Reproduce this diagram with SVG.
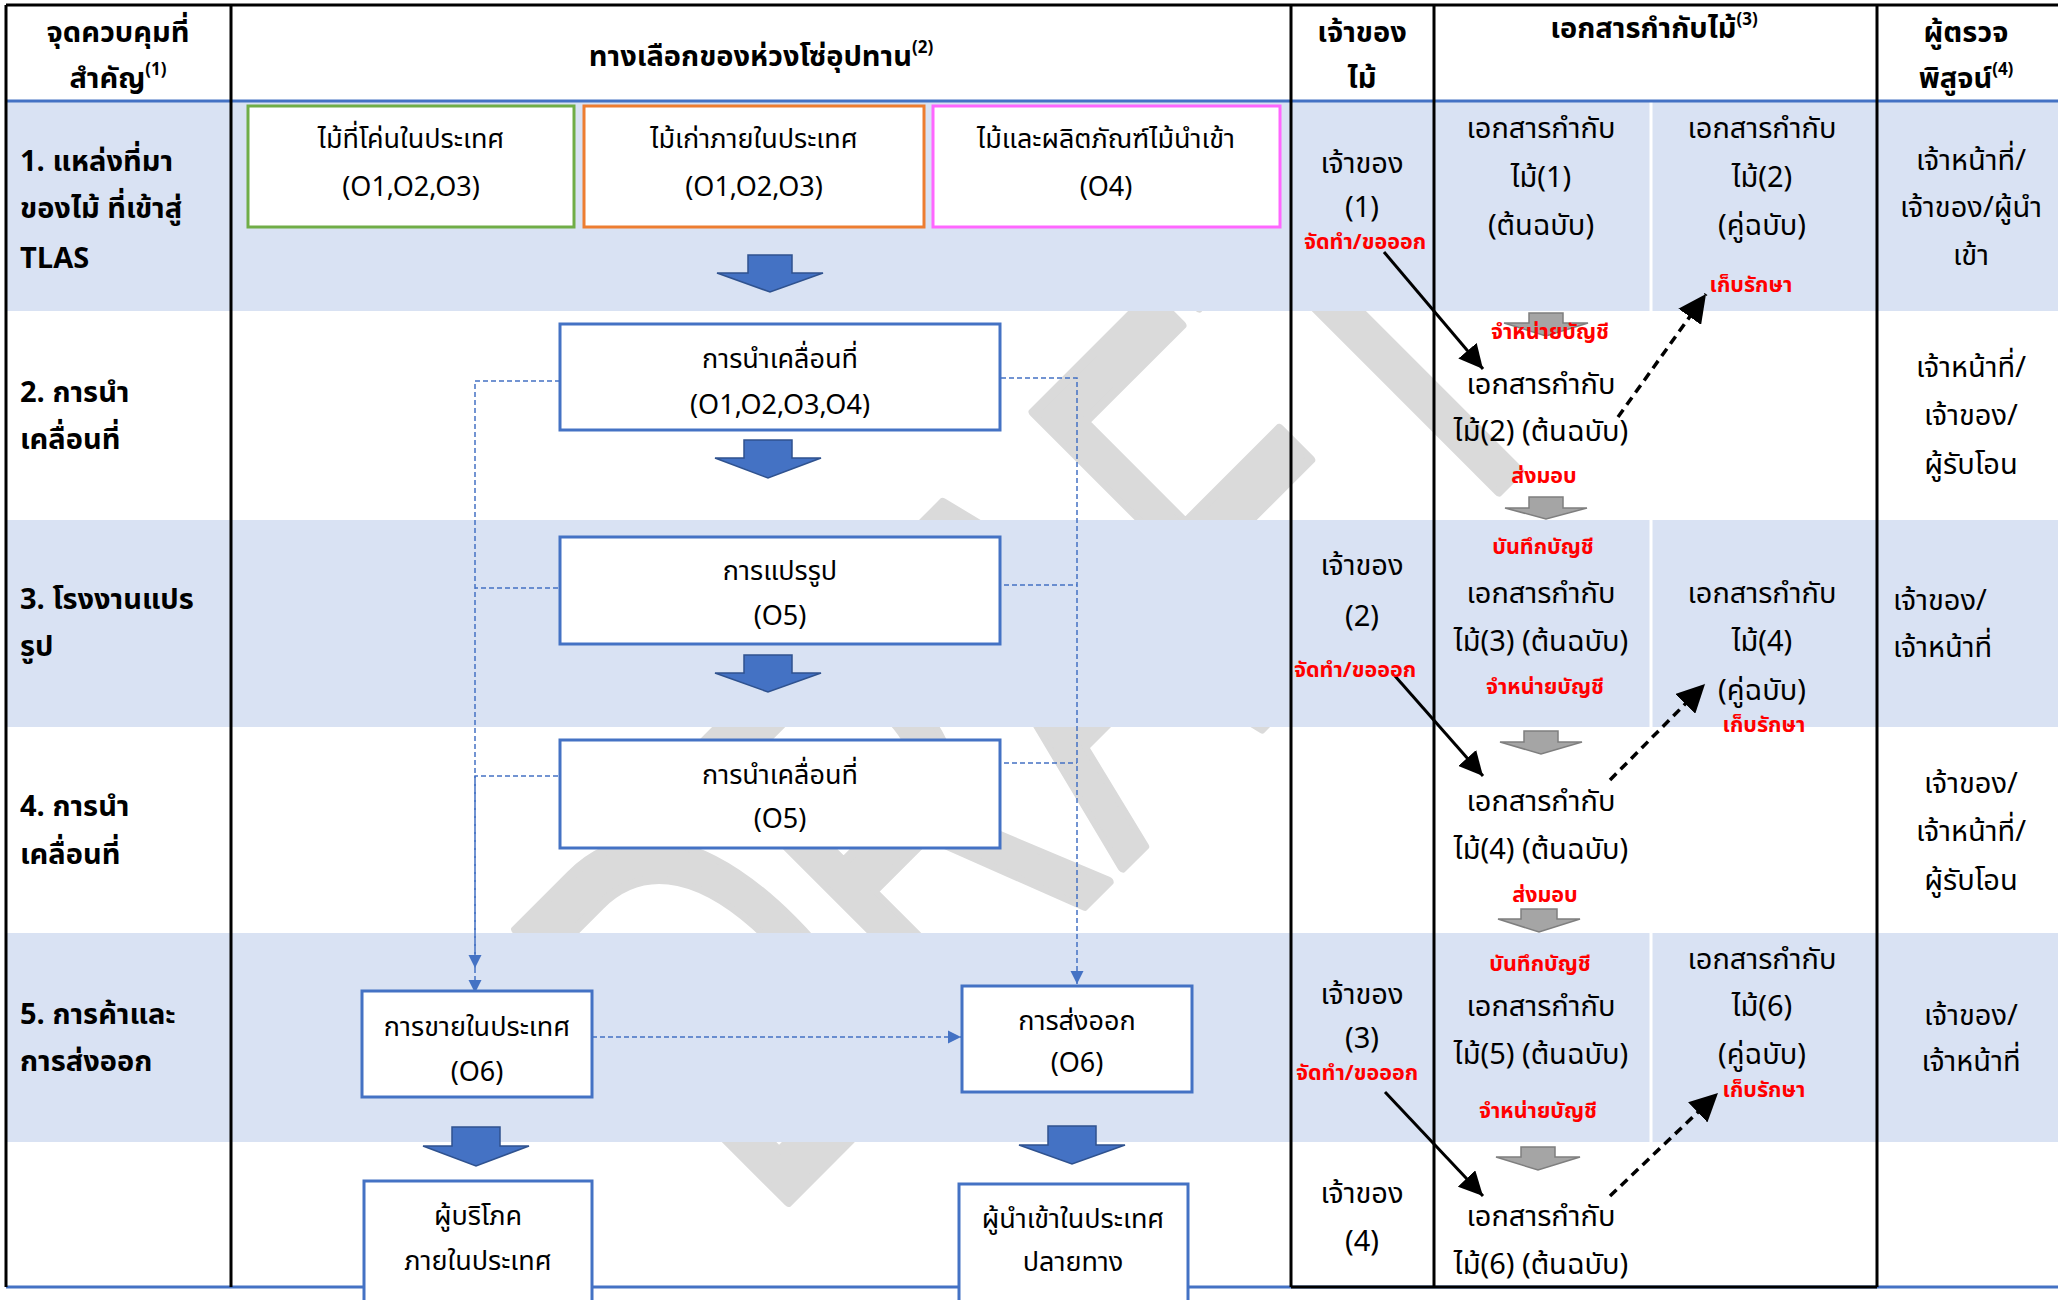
<svg xmlns="http://www.w3.org/2000/svg" width="2058" height="1300" viewBox="0 0 2058 1300">
<style>
text{font-family:"Noto Sans Thai","Noto Sans","DejaVu Sans",sans-serif;fill:#000}
.hd{font-size:29px;font-weight:bold;text-anchor:middle}
.lb{font-size:29px;font-weight:bold}
.bd{font-size:29px;text-anchor:middle}
.bl{font-size:29px}
.bx{font-size:27px;text-anchor:middle}
.rd{font-size:21.5px;font-weight:bold;fill:#FF0000;text-anchor:middle}
.sup{font-size:17px}
.band{fill:#D9E2F3}
.node{fill:#fff;stroke:#4472C4;stroke-width:3}
.barrow{fill:#4472C4;stroke:#2F528F;stroke-width:1.5}
.garrow{fill:#A5A5A5;stroke:#7F7F7F;stroke-width:1.5}
.dash{stroke:#4472C4;stroke-width:1.5;stroke-dasharray:5 3;fill:none}
.blk{stroke:#000;stroke-width:3;fill:none}
.blkd{stroke:#000;stroke-width:3.5;stroke-dasharray:9 6;fill:none}
.wm{font-family:"Liberation Sans",Arial,sans-serif;font-size:559px;fill:#DADADA;stroke:#DADADA;stroke-width:10;stroke-linejoin:round}
</style>
<defs>
<marker id="mb" viewBox="0 0 10 10" refX="10" refY="5" markerWidth="13" markerHeight="18" markerUnits="userSpaceOnUse" orient="auto"><path d="M0,0 L10,5 L0,10 Z" fill="#4472C4"/></marker>
<marker id="mk" viewBox="0 0 10 10" refX="10" refY="5" markerWidth="8" markerHeight="8" orient="auto"><path d="M0,0 L10,5 L0,10 Z" fill="#000"/></marker>
</defs>
<rect width="2058" height="1300" fill="#fff"/>
<text class="wm" transform="translate(767,1223) rotate(-45) scale(0.62,1)" x="0" y="0">DRAFT</text>
<g id="bands">
<rect class="band" x="6" y="101" width="2052" height="210"/>
<rect class="band" x="6" y="520" width="2052" height="207"/>
<rect class="band" x="6" y="933" width="2052" height="209"/>
</g>
<g id="grid">
<line x1="1651" y1="101" x2="1651" y2="1287" stroke="#fff" stroke-width="3"/>
<line x1="6" y1="101" x2="2058" y2="101" stroke="#4472C4" stroke-width="3"/>
<line x1="6" y1="1287" x2="2058" y2="1287" stroke="#4472C4" stroke-width="3"/>
<line x1="1291" y1="1287" x2="1877" y2="1287" stroke="#000" stroke-width="3"/>
<line x1="6" y1="5" x2="2058" y2="5" stroke="#000" stroke-width="3"/>
<line x1="6" y1="5" x2="6" y2="1287" stroke="#000" stroke-width="3"/>
<line x1="231" y1="5" x2="231" y2="1287" stroke="#000" stroke-width="3"/>
<line x1="1291" y1="5" x2="1291" y2="1287" stroke="#000" stroke-width="3"/>
<line x1="1434" y1="5" x2="1434" y2="1287" stroke="#000" stroke-width="3"/>
<line x1="1877" y1="5" x2="1877" y2="1287" stroke="#000" stroke-width="3"/>
</g>
<g id="header">
<text class="hd" x="118" y="42">จุดควบคุมที่</text>
<text class="hd" x="118" y="88">สำคัญ<tspan class="sup" dy="-13">(1)</tspan></text>
<text class="hd" x="761" y="66">ทางเลือกของห่วงโซ่อุปทาน<tspan class="sup" dy="-13">(2)</tspan></text>
<text class="hd" x="1362" y="42">เจ้าของ</text>
<text class="hd" x="1362" y="88">ไม้</text>
<text class="hd" x="1654" y="38">เอกสารกำกับไม้<tspan class="sup" dy="-13">(3)</tspan></text>
<text class="hd" x="1966" y="42">ผู้ตรวจ</text>
<text class="hd" x="1966" y="88">พิสูจน์<tspan class="sup" dy="-13">(4)</tspan></text>
</g>
<g id="row-labels">
<text class="lb" x="20" y="171">1. แหล่งที่มา</text>
<text class="lb" x="20" y="218">ของไม้ ที่เข้าสู่</text>
<text class="lb" x="20" y="268">TLAS</text>
<text class="lb" x="20" y="402">2. การนำ</text>
<text class="lb" x="20" y="449">เคลื่อนที่</text>
<text class="lb" x="20" y="609">3. โรงงานแปร</text>
<text class="lb" x="20" y="656">รูป</text>
<text class="lb" x="20" y="816">4. การนำ</text>
<text class="lb" x="20" y="864">เคลื่อนที่</text>
<text class="lb" x="20" y="1024">5. การค้าและ</text>
<text class="lb" x="20" y="1071">การส่งออก</text>
</g>
<g id="connectors">
<path class="dash" d="M560,381 H475 V993" marker-end="url(#mb)"/>
<path class="dash" d="M566,588 H475"/>
<path class="dash" d="M566,776 H475 V968" marker-end="url(#mb)"/>
<path class="dash" d="M1001,378 H1077 V984" marker-end="url(#mb)"/>
<path class="dash" d="M1004,585 H1077"/>
<path class="dash" d="M1004,763 H1077"/>
<path class="dash" d="M592,1037 H961" marker-end="url(#mb)"/>
<path class="barrow" d="M748,255 H792 V273 H823 L770,292 L717,273 H748 Z"/>
<path class="barrow" d="M744,440 H792 V458 H821 L768,478 L715,458 H744 Z"/>
<path class="barrow" d="M744,655 H792 V673 H821 L768,692 L715,673 H744 Z"/>
<path class="barrow" d="M452,1127 H500 V1146 H529 L476,1166 L423,1146 H452 Z"/>
<path class="barrow" d="M1048,1126 H1096 V1145 H1125 L1072,1164 L1019,1145 H1048 Z"/>
<path class="garrow" d="M1529,313 H1563 V323 H1588 L1546,336 L1504,323 H1529 Z"/>
<path class="garrow" d="M1529,497 H1563 V508 H1587 L1546,519 L1505,508 H1529 Z"/>
<path class="garrow" d="M1524,731 H1558 V742 H1582 L1541,754 L1500,742 H1524 Z"/>
<path class="garrow" d="M1521,909 H1557 V919 H1580 L1539,932 L1498,919 H1521 Z"/>
<path class="garrow" d="M1521,1147 H1555 V1157 H1580 L1538,1170 L1496,1157 H1521 Z"/>
<line class="blk" x1="1384" y1="252" x2="1483" y2="369" marker-end="url(#mk)"/>
<line class="blk" x1="1395" y1="676" x2="1483" y2="776" marker-end="url(#mk)"/>
<line class="blk" x1="1385" y1="1092" x2="1483" y2="1196" marker-end="url(#mk)"/>
<line class="blkd" x1="1618" y1="417" x2="1706" y2="294" marker-end="url(#mk)"/>
<line class="blkd" x1="1610" y1="780" x2="1705" y2="684" marker-end="url(#mk)"/>
<line class="blkd" x1="1610" y1="1196" x2="1718" y2="1093" marker-end="url(#mk)"/>
</g>
<g id="src-domestic">
<rect x="248" y="106" width="326" height="121" fill="#fff" stroke="#70AD47" stroke-width="3"/>
<text class="bx" x="411" y="148">ไม้ที่โค่นในประเทศ</text>
<text class="bx" x="411" y="196">(O1,O2,O3)</text>
</g>
<g id="src-old">
<rect x="584" y="106" width="340" height="121" fill="#fff" stroke="#ED7D31" stroke-width="3"/>
<text class="bx" x="754" y="148">ไม้เก่าภายในประเทศ</text>
<text class="bx" x="754" y="196">(O1,O2,O3)</text>
</g>
<g id="src-import">
<rect x="933" y="106" width="347" height="121" fill="#fff" stroke="#FF66FF" stroke-width="3"/>
<text class="bx" x="1106" y="148">ไม้และผลิตภัณฑ์ไม้นำเข้า</text>
<text class="bx" x="1106" y="196">(O4)</text>
</g>
<g id="move1">
<rect class="node" x="560" y="324" width="440" height="106"/>
<text class="bx" x="780" y="368">การนำเคลื่อนที่</text>
<text class="bx" x="780" y="414">(O1,O2,O3,O4)</text>
</g>
<g id="process">
<rect class="node" x="560" y="537" width="440" height="107"/>
<text class="bx" x="780" y="580">การแปรรูป</text>
<text class="bx" x="780" y="625">(O5)</text>
</g>
<g id="move2">
<rect class="node" x="560" y="740" width="440" height="108"/>
<text class="bx" x="780" y="784">การนำเคลื่อนที่</text>
<text class="bx" x="780" y="828">(O5)</text>
</g>
<g id="sale">
<rect class="node" x="362" y="991" width="230" height="106"/>
<text class="bx" x="477" y="1036">การขายในประเทศ</text>
<text class="bx" x="477" y="1081">(O6)</text>
</g>
<g id="export">
<rect class="node" x="962" y="986" width="230" height="106"/>
<text class="bx" x="1077" y="1030">การส่งออก</text>
<text class="bx" x="1077" y="1072">(O6)</text>
</g>
<g id="consumer">
<rect class="node" x="364" y="1181" width="228" height="130"/>
<text class="bx" x="478" y="1225">ผู้บริโภค</text>
<text class="bx" x="478" y="1270">ภายในประเทศ</text>
</g>
<g id="importer">
<rect class="node" x="959" y="1184" width="229" height="130"/>
<text class="bx" x="1073" y="1228">ผู้นำเข้าในประเทศ</text>
<text class="bx" x="1073" y="1271">ปลายทาง</text>
</g>
<g id="owner-col">
<text class="bd" x="1362" y="173">เจ้าของ</text>
<text class="bd" x="1362" y="217">(1)</text>
<text class="rd" x="1365" y="249">จัดทำ/ขอออก</text>
<text class="bd" x="1362" y="575">เจ้าของ</text>
<text class="bd" x="1362" y="626">(2)</text>
<text class="rd" x="1355" y="677">จัดทำ/ขอออก</text>
<text class="bd" x="1362" y="1004">เจ้าของ</text>
<text class="bd" x="1362" y="1048">(3)</text>
<text class="rd" x="1357" y="1080">จัดทำ/ขอออก</text>
<text class="bd" x="1362" y="1203">เจ้าของ</text>
<text class="bd" x="1362" y="1251">(4)</text>
</g>
<g id="doc-col">
<text class="bd" x="1541" y="138">เอกสารกำกับ</text>
<text class="bd" x="1541" y="187">ไม้(1)</text>
<text class="bd" x="1541" y="235">(ต้นฉบับ)</text>
<text class="rd" x="1550" y="339">จำหน่ายบัญชี</text>
<text class="bd" x="1541" y="394">เอกสารกำกับ</text>
<text class="bd" x="1541" y="441">ไม้(2) (ต้นฉบับ)</text>
<text class="rd" x="1544" y="483">ส่งมอบ</text>
<text class="rd" x="1543" y="554">บันทึกบัญชี</text>
<text class="bd" x="1541" y="603">เอกสารกำกับ</text>
<text class="bd" x="1541" y="651">ไม้(3) (ต้นฉบับ)</text>
<text class="rd" x="1545" y="694">จำหน่ายบัญชี</text>
<text class="bd" x="1541" y="811">เอกสารกำกับ</text>
<text class="bd" x="1541" y="859">ไม้(4) (ต้นฉบับ)</text>
<text class="rd" x="1545" y="902">ส่งมอบ</text>
<text class="rd" x="1540" y="971">บันทึกบัญชี</text>
<text class="bd" x="1541" y="1016">เอกสารกำกับ</text>
<text class="bd" x="1541" y="1064">ไม้(5) (ต้นฉบับ)</text>
<text class="rd" x="1538" y="1118">จำหน่ายบัญชี</text>
<text class="bd" x="1541" y="1226">เอกสารกำกับ</text>
<text class="bd" x="1541" y="1274">ไม้(6)  (ต้นฉบับ)</text>
<text class="bd" x="1762" y="138">เอกสารกำกับ</text>
<text class="bd" x="1762" y="187">ไม้(2)</text>
<text class="bd" x="1762" y="235">(คู่ฉบับ)</text>
<text class="rd" x="1751" y="292">เก็บรักษา</text>
<text class="bd" x="1762" y="603">เอกสารกำกับ</text>
<text class="bd" x="1762" y="651">ไม้(4)</text>
<text class="bd" x="1762" y="700">(คู่ฉบับ)</text>
<text class="rd" x="1764" y="732">เก็บรักษา</text>
<text class="bd" x="1762" y="969">เอกสารกำกับ</text>
<text class="bd" x="1762" y="1016">ไม้(6)</text>
<text class="bd" x="1762" y="1064">(คู่ฉบับ)</text>
<text class="rd" x="1764" y="1097">เก็บรักษา</text>
</g>
<g id="verifier-col">
<text class="bd" x="1971" y="170">เจ้าหน้าที่/</text>
<text class="bd" x="1971" y="217">เจ้าของ/ผู้นำ</text>
<text class="bd" x="1971" y="265">เข้า</text>
<text class="bd" x="1971" y="377">เจ้าหน้าที่/</text>
<text class="bd" x="1971" y="425">เจ้าของ/</text>
<text class="bd" x="1971" y="474">ผู้รับโอน</text>
<text class="bl" x="1893" y="610">เจ้าของ/</text>
<text class="bl" x="1893" y="657">เจ้าหน้าที่</text>
<text class="bd" x="1971" y="793">เจ้าของ/</text>
<text class="bd" x="1971" y="841">เจ้าหน้าที่/</text>
<text class="bd" x="1971" y="890">ผู้รับโอน</text>
<text class="bd" x="1971" y="1025">เจ้าของ/</text>
<text class="bd" x="1971" y="1071">เจ้าหน้าที่</text>
</g>
</svg>
